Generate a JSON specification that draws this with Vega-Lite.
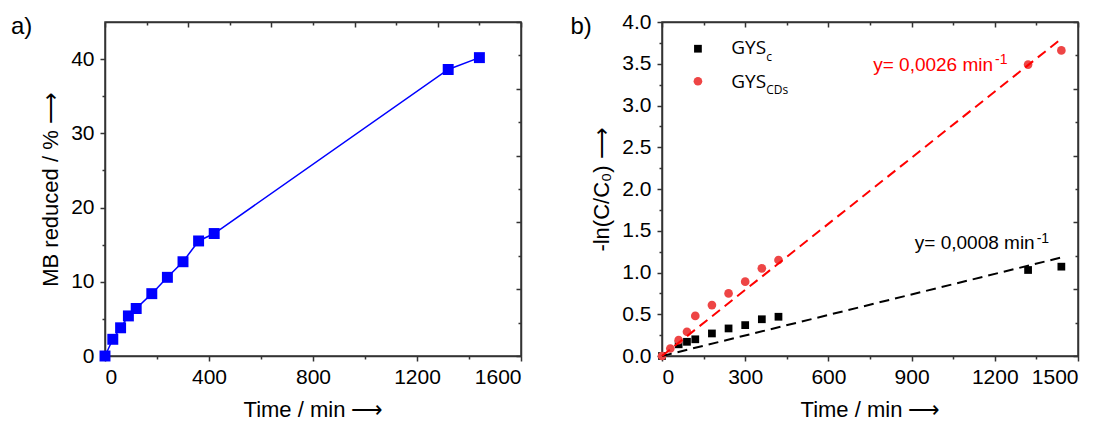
{
  "$schema": "https://vega.github.io/schema/vega-lite/v6.json",
  "autosize": {"type": "pad"},
  "padding": {"left": 10, "top": 10, "right": 0, "bottom": 0},
  "background": "white",
  "datasets": {
    "mb": [
      {"t": 0, "v": 0}, {"t": 30, "v": 2.25}, {"t": 60, "v": 3.8}, {"t": 90, "v": 5.4},
      {"t": 120, "v": 6.4}, {"t": 180, "v": 8.4}, {"t": 240, "v": 10.6}, {"t": 300, "v": 12.7},
      {"t": 360, "v": 15.5}, {"t": 420, "v": 16.5}, {"t": 1320, "v": 38.6}, {"t": 1440, "v": 40.2}
    ],
    "kin": [
      {"series": "GYSc", "t": 0, "v": 0}, {"series": "GYSc", "t": 60, "v": 0.14},
      {"series": "GYSc", "t": 90, "v": 0.17}, {"series": "GYSc", "t": 120, "v": 0.2},
      {"series": "GYSc", "t": 180, "v": 0.27}, {"series": "GYSc", "t": 240, "v": 0.33},
      {"series": "GYSc", "t": 300, "v": 0.37}, {"series": "GYSc", "t": 360, "v": 0.44},
      {"series": "GYSc", "t": 420, "v": 0.47}, {"series": "GYSc", "t": 1320, "v": 1.03},
      {"series": "GYSc", "t": 1440, "v": 1.07},
      {"series": "GYSCDs", "t": 0, "v": 0}, {"series": "GYSCDs", "t": 30, "v": 0.09},
      {"series": "GYSCDs", "t": 60, "v": 0.19}, {"series": "GYSCDs", "t": 90, "v": 0.29},
      {"series": "GYSCDs", "t": 120, "v": 0.48}, {"series": "GYSCDs", "t": 180, "v": 0.61},
      {"series": "GYSCDs", "t": 240, "v": 0.75}, {"series": "GYSCDs", "t": 300, "v": 0.89},
      {"series": "GYSCDs", "t": 360, "v": 1.05}, {"series": "GYSCDs", "t": 420, "v": 1.15},
      {"series": "GYSCDs", "t": 1320, "v": 3.49}, {"series": "GYSCDs", "t": 1440, "v": 3.66}
    ],
    "fits": [
      {"series": "GYSc", "t": 0, "v": 0}, {"series": "GYSc", "t": 1440, "v": 1.18},
      {"series": "GYSCDs", "t": 0, "v": 0}, {"series": "GYSCDs", "t": 1440, "v": 3.8}
    ],
    "one": [{}]
  },
  "hconcat": [
    {
      "width": 416,
      "height": 334,
      "layer": [
        {
          "data": {"name": "mb"},
          "mark": {"type": "line", "color": "#0000FF", "strokeWidth": 1.5},
          "encoding": {
            "x": {
              "field": "t", "type": "quantitative",
              "scale": {"domain": [0, 1600], "nice": false, "zero": false},
              "axis": {
                "orient": "bottom",
                "values": [0, 200, 400, 600, 800, 1000, 1200, 1400, 1600],
                "format": "d",
                "labelExpr": "datum.value % 400 === 0 ? datum.label : ''",
                "tickSize": {"condition": {"test": "datum.value % 400 === 0", "value": 5}, "value": 3},
                "labelPadding": 5,
                "title": "Time / min ⟶",
                "titlePadding": 12
              }
            },
            "y": {
              "field": "v", "type": "quantitative",
              "scale": {"domain": [0, 45], "nice": false, "zero": false},
              "axis": {
                "orient": "left",
                "values": [0, 5, 10, 15, 20, 25, 30, 35, 40],
                "labelExpr": "datum.value % 10 === 0 ? datum.label : ''",
                "tickSize": {"condition": {"test": "datum.value % 10 === 0", "value": 5}, "value": 3},
                "labelPadding": 6,
                "title": "MB reduced / % ⟶",
                "titlePadding": 8
              }
            }
          }
        },
        {
          "data": {"name": "mb"},
          "mark": {"type": "square", "color": "#0000FF", "opacity": 1, "size": 120},
          "encoding": {
            "x": {"field": "t", "type": "quantitative", "axis": null},
            "y": {"field": "v", "type": "quantitative", "axis": null}
          }
        },
        {
          "data": {"name": "one"},
          "mark": {"type": "text", "text": "a)", "align": "left", "baseline": "alphabetic", "font": "Liberation Sans", "fontSize": 24, "color": "#000"},
          "encoding": {
            "x": {"datum": -361.5, "type": "quantitative", "axis": null},
            "y": {"datum": 43.4, "type": "quantitative", "axis": null}
          }
        },
        {
          "data": {"name": "one"},
          "mark": {"type": "point", "opacity": 0},
          "encoding": {
            "x": {
              "datum": 0, "type": "quantitative",
              "axis": {
                "orient": "top", "values": [0, 160, 320, 480, 640, 800, 960, 1120, 1280, 1440, 1600],
                "labelExpr": "''", "labelFontSize": 1, "labelPadding": 0, "title": "", "titleFontSize": 1, "titlePadding": 0,
                "domain": true, "ticks": true,
                "tickSize": {"condition": {"test": "datum.value % 320 === 0", "value": -5}, "value": -3}
              }
            },
            "y": {
              "datum": 0, "type": "quantitative",
              "axis": {
                "orient": "right", "values": [0, 4.5, 9, 13.5, 18, 22.5, 27, 31.5, 36, 40.5, 45],
                "labelExpr": "''", "labelFontSize": 1, "labelPadding": 0, "title": "", "titleFontSize": 1, "titlePadding": 0,
                "domain": true, "ticks": true,
                "tickSize": {"condition": {"test": "round(datum.value * 10) % 90 === 0", "value": -5}, "value": -3}
              }
            }
          }
        }
      ]
    },
    {
      "width": 416,
      "height": 334,
      "layer": [
        {
          "data": {"name": "kin"},
          "mark": {"type": "point", "filled": true, "opacity": 1},
          "encoding": {
            "x": {
              "field": "t", "type": "quantitative",
              "scale": {"domain": [0, 1500], "nice": false, "zero": false},
              "axis": {
                "orient": "bottom",
                "values": [0, 150, 300, 450, 600, 750, 900, 1050, 1200, 1350, 1500],
                "format": "d",
                "labelExpr": "datum.value % 300 === 0 ? datum.label : ''",
                "tickSize": {"condition": {"test": "datum.value % 300 === 0", "value": 5}, "value": 3},
                "labelPadding": 5,
                "title": "Time / min ⟶",
                "titlePadding": 12
              }
            },
            "y": {
              "field": "v", "type": "quantitative",
              "scale": {"domain": [0, 4], "nice": false, "zero": false},
              "axis": {
                "orient": "left",
                "values": [0, 0.25, 0.5, 0.75, 1, 1.25, 1.5, 1.75, 2, 2.25, 2.5, 2.75, 3, 3.25, 3.5, 3.75, 4],
                "format": ".1f",
                "labelExpr": "round(datum.value * 4) % 2 === 0 ? datum.label : ''",
                "tickSize": {"condition": {"test": "round(datum.value * 4) % 2 === 0", "value": 5}, "value": 3},
                "labelPadding": 6,
                "title": "-ln(C/C₀) ⟶",
                "titlePadding": 8
              }
            },
            "shape": {"field": "series", "type": "nominal", "scale": {"domain": ["GYSc", "GYSCDs"], "range": ["square", "circle"]}, "legend": null},
            "color": {"field": "series", "type": "nominal", "scale": {"domain": ["GYSc", "GYSCDs"], "range": ["#000000", "#EE4545"]}, "legend": null},
            "size": {"field": "series", "type": "nominal", "scale": {"domain": ["GYSc", "GYSCDs"], "range": [60, 75]}, "legend": null}
          }
        },
        {
          "data": {"name": "fits"},
          "mark": {"type": "line", "strokeWidth": 2, "strokeDash": [10, 6]},
          "encoding": {
            "x": {"field": "t", "type": "quantitative", "axis": null},
            "y": {"field": "v", "type": "quantitative", "axis": null},
            "detail": {"field": "series"},
            "stroke": {"field": "series", "type": "nominal", "scale": {"domain": ["GYSc", "GYSCDs"], "range": ["#000000", "#FF0000"]}, "legend": null}
          }
        },
        {
          "data": {"name": "one"},
          "mark": {"type": "square", "color": "#000000", "opacity": 1, "size": 60},
          "encoding": {
            "x": {"datum": 129.6, "type": "quantitative", "axis": null},
            "y": {"datum": 3.68, "type": "quantitative", "axis": null}
          }
        },
        {
          "data": {"name": "one"},
          "mark": {"type": "circle", "color": "#EE4545", "opacity": 1, "size": 75},
          "encoding": {
            "x": {"datum": 129.6, "type": "quantitative", "axis": null},
            "y": {"datum": 3.29, "type": "quantitative", "axis": null}
          }
        },
        {
          "data": {"name": "one"},
          "mark": {"type": "text", "text": "GYS", "align": "left", "baseline": "alphabetic", "font": "Open Sans", "fontSize": 19, "color": "#000"},
          "encoding": {
            "x": {"datum": 249.5, "type": "quantitative", "axis": null},
            "y": {"datum": 3.613, "type": "quantitative", "axis": null}
          }
        },
        {
          "data": {"name": "one"},
          "mark": {"type": "text", "text": "c", "align": "left", "baseline": "alphabetic", "dx": 35, "font": "Open Sans", "fontSize": 12, "color": "#000"},
          "encoding": {
            "x": {"datum": 249.5, "type": "quantitative", "axis": null},
            "y": {"datum": 3.529, "type": "quantitative", "axis": null}
          }
        },
        {
          "data": {"name": "one"},
          "mark": {"type": "text", "text": "GYS", "align": "left", "baseline": "alphabetic", "font": "Open Sans", "fontSize": 19, "color": "#000"},
          "encoding": {
            "x": {"datum": 249.5, "type": "quantitative", "axis": null},
            "y": {"datum": 3.213, "type": "quantitative", "axis": null}
          }
        },
        {
          "data": {"name": "one"},
          "mark": {"type": "text", "text": "CDs", "align": "left", "baseline": "alphabetic", "dx": 35, "font": "Open Sans", "fontSize": 12, "color": "#000"},
          "encoding": {
            "x": {"datum": 249.5, "type": "quantitative", "axis": null},
            "y": {"datum": 3.138, "type": "quantitative", "axis": null}
          }
        },
        {
          "data": {"name": "one"},
          "mark": {"type": "text", "text": "y= 0,0026 min", "align": "right", "baseline": "alphabetic", "font": "Liberation Sans", "fontSize": 19, "color": "#FF0000"},
          "encoding": {
            "x": {"datum": 1193.8, "type": "quantitative", "axis": null},
            "y": {"datum": 3.417, "type": "quantitative", "axis": null}
          }
        },
        {
          "data": {"name": "one"},
          "mark": {"type": "text", "text": "-1", "align": "left", "baseline": "alphabetic", "dx": 2, "font": "Liberation Sans", "fontSize": 14, "color": "#FF0000"},
          "encoding": {
            "x": {"datum": 1193.8, "type": "quantitative", "axis": null},
            "y": {"datum": 3.501, "type": "quantitative", "axis": null}
          }
        },
        {
          "data": {"name": "one"},
          "mark": {"type": "text", "text": "y= 0,0008 min", "align": "right", "baseline": "alphabetic", "font": "Liberation Sans", "fontSize": 19, "color": "#000000"},
          "encoding": {
            "x": {"datum": 1343.8, "type": "quantitative", "axis": null},
            "y": {"datum": 1.279, "type": "quantitative", "axis": null}
          }
        },
        {
          "data": {"name": "one"},
          "mark": {"type": "text", "text": "-1", "align": "left", "baseline": "alphabetic", "dx": 2, "font": "Liberation Sans", "fontSize": 14, "color": "#000000"},
          "encoding": {
            "x": {"datum": 1343.8, "type": "quantitative", "axis": null},
            "y": {"datum": 1.359, "type": "quantitative", "axis": null}
          }
        },
        {
          "data": {"name": "one"},
          "mark": {"type": "text", "text": "b)", "align": "left", "baseline": "alphabetic", "font": "Liberation Sans", "fontSize": 24, "color": "#000"},
          "encoding": {
            "x": {"datum": -330, "type": "quantitative", "axis": null},
            "y": {"datum": 3.86, "type": "quantitative", "axis": null}
          }
        },
        {
          "data": {"name": "one"},
          "mark": {"type": "point", "opacity": 0},
          "encoding": {
            "x": {
              "datum": 0, "type": "quantitative",
              "axis": {
                "orient": "top", "values": [0, 150, 300, 450, 600, 750, 900, 1050, 1200, 1350, 1500],
                "labelExpr": "''", "labelFontSize": 1, "labelPadding": 0, "title": "", "titleFontSize": 1, "titlePadding": 0,
                "domain": true, "ticks": true,
                "tickSize": {"condition": {"test": "datum.value % 300 === 0", "value": -5}, "value": -3}
              }
            },
            "y": {
              "datum": 0, "type": "quantitative",
              "axis": {
                "orient": "right", "values": [0, 0.4, 0.8, 1.2, 1.6, 2, 2.4, 2.8, 3.2, 3.6, 4],
                "labelExpr": "''", "labelFontSize": 1, "labelPadding": 0, "title": "", "titleFontSize": 1, "titlePadding": 0,
                "domain": true, "ticks": true,
                "tickSize": {"condition": {"test": "round(datum.value * 10) % 8 === 0", "value": -5}, "value": -3}
              }
            }
          }
        }
      ]
    }
  ],
  "spacing": 46,
  "config": {
    "view": {"stroke": "#333333", "strokeWidth": 1.5},
    "axis": {
      "domainColor": "#333333", "domainWidth": 1.5,
      "tickColor": "#333333", "tickWidth": 1.5,
      "labelFont": "Liberation Sans", "labelFontSize": 21, "labelColor": "#000000",
      "titleFont": "Liberation Sans", "titleFontSize": 22, "titleFontWeight": "normal", "titleColor": "#000000",
      "grid": false
    }
  }
}
